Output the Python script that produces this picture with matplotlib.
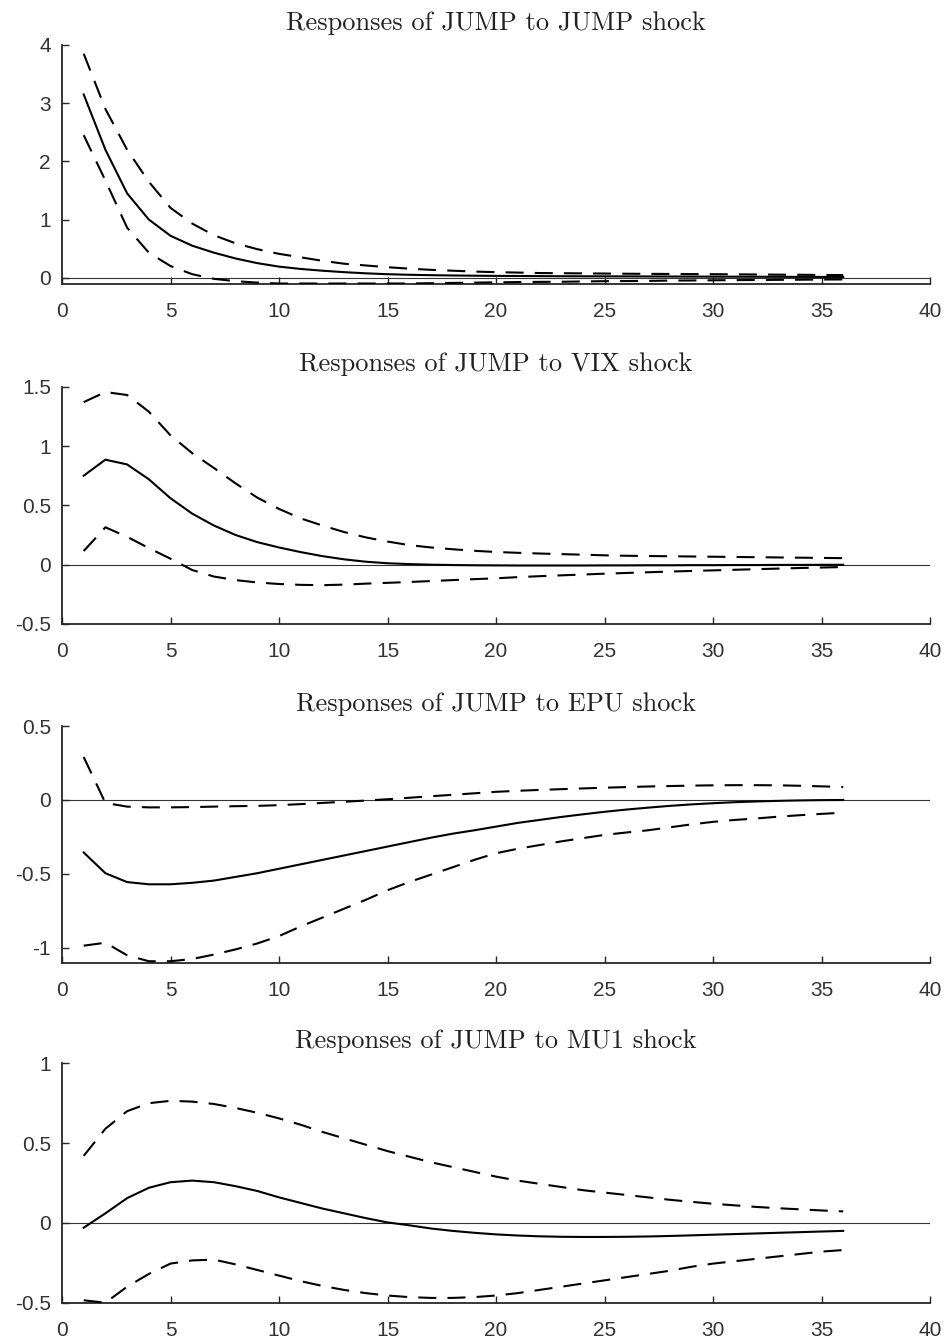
import numpy as np
import matplotlib
matplotlib.use("Agg")
import matplotlib.pyplot as plt
from matplotlib.ticker import FuncFormatter

# ---------------- data ----------------
horizon = list(range(1, 37))

titles = ["Responses of JUMP to JUMP shock",
          "Responses of JUMP to VIX shock",
          "Responses of JUMP to EPU shock",
          "Responses of JUMP to MU1 shock"]

jump_irf = [3.15, 2.2, 1.45, 1.0, 0.72, 0.55, 0.43, 0.33, 0.25, 0.19, 0.15, 0.12,
            0.095, 0.075, 0.06, 0.05, 0.043, 0.038, 0.034, 0.031, 0.029, 0.027, 0.025, 0.024,
            0.023, 0.022, 0.021, 0.020, 0.019, 0.018, 0.017, 0.016, 0.015, 0.014, 0.013, 0.012]
jump_up = [3.85, 2.9, 2.2, 1.65, 1.2, 0.93, 0.73, 0.59, 0.49, 0.41, 0.35, 0.29,
           0.24, 0.21, 0.18, 0.155, 0.135, 0.12, 0.105, 0.095, 0.088, 0.08, 0.077, 0.074,
           0.071, 0.068, 0.066, 0.064, 0.062, 0.06, 0.058, 0.055, 0.052, 0.05, 0.047, 0.045]
jump_lo = [2.45, 1.67, 0.86, 0.43, 0.2, 0.06, -0.02, -0.06, -0.085, -0.1, -0.1, -0.1,
           -0.1, -0.1, -0.1, -0.1, -0.095, -0.09, -0.085, -0.08, -0.075, -0.072, -0.07, -0.065,
           -0.06, -0.058, -0.055, -0.05, -0.048, -0.045, -0.042, -0.04, -0.037, -0.035, -0.032, -0.03]

vix_irf = [0.75, 0.885, 0.845, 0.72, 0.56, 0.43, 0.33, 0.25, 0.19, 0.145, 0.106, 0.072,
           0.045, 0.025, 0.012, 0.005, 0.0, -0.003, -0.005, -0.006, -0.007, -0.007, -0.007, -0.007,
           -0.006, -0.006, -0.005, -0.005, -0.004, -0.004, -0.003, -0.003, -0.002, -0.002, -0.001, -0.001]
vix_up = [1.37, 1.455, 1.43, 1.29, 1.09, 0.94, 0.815, 0.685, 0.565, 0.47, 0.39, 0.33,
          0.275, 0.23, 0.195, 0.165, 0.145, 0.13, 0.117, 0.107, 0.1, 0.094, 0.089, 0.084,
          0.079, 0.075, 0.073, 0.071, 0.069, 0.067, 0.065, 0.063, 0.061, 0.059, 0.057, 0.055]
vix_lo = [0.115, 0.315, 0.235, 0.14, 0.05, -0.045, -0.1, -0.13, -0.15, -0.163, -0.17, -0.173,
          -0.168, -0.16, -0.153, -0.146, -0.138, -0.13, -0.122, -0.115, -0.105, -0.097, -0.09, -0.083,
          -0.076, -0.07, -0.064, -0.058, -0.053, -0.048, -0.043, -0.038, -0.033, -0.028, -0.024, -0.02]

epu_irf = [-0.355, -0.495, -0.555, -0.57, -0.57, -0.56, -0.545, -0.52, -0.495, -0.465, -0.435, -0.405,
           -0.375, -0.345, -0.315, -0.285, -0.255, -0.228, -0.205, -0.18, -0.155, -0.135, -0.115, -0.097,
           -0.08, -0.065, -0.052, -0.04, -0.03, -0.022, -0.015, -0.01, -0.006, -0.003, -0.001, 0.0]
epu_up = [0.29, -0.02, -0.045, -0.05, -0.05, -0.048, -0.045, -0.042, -0.04, -0.035, -0.028, -0.02,
          -0.012, -0.004, 0.005, 0.015, 0.025, 0.035, 0.045, 0.055, 0.062, 0.068, 0.073, 0.078,
          0.083, 0.087, 0.091, 0.094, 0.097, 0.099, 0.1, 0.1, 0.099, 0.096, 0.092, 0.088]
epu_lo = [-0.985, -0.965, -1.05, -1.09, -1.09, -1.075, -1.045, -1.01, -0.97, -0.92, -0.855, -0.795,
          -0.735, -0.675, -0.61, -0.555, -0.505, -0.455, -0.405, -0.36, -0.33, -0.305, -0.28, -0.258,
          -0.236, -0.22, -0.205, -0.185, -0.165, -0.148, -0.135, -0.125, -0.113, -0.103, -0.094, -0.086]

mu1_irf = [-0.03, 0.06, 0.155, 0.22, 0.255, 0.265, 0.255, 0.23, 0.2, 0.16, 0.125, 0.09,
           0.06, 0.03, 0.003, -0.015, -0.035, -0.05, -0.062, -0.072, -0.079, -0.084, -0.087, -0.088,
           -0.088, -0.087, -0.085, -0.082, -0.078, -0.074, -0.07, -0.066, -0.062, -0.058, -0.054, -0.05]
mu1_up = [0.42, 0.59, 0.7, 0.75, 0.765, 0.76, 0.745, 0.72, 0.69, 0.655, 0.615, 0.57,
          0.53, 0.49, 0.45, 0.415, 0.38, 0.35, 0.32, 0.29, 0.265, 0.245, 0.225, 0.205,
          0.19, 0.175, 0.16, 0.145, 0.132, 0.12, 0.11, 0.1, 0.092, 0.085, 0.078, 0.072]
mu1_lo = [-0.485, -0.5, -0.4, -0.32, -0.255, -0.235, -0.23, -0.26, -0.295, -0.33, -0.365, -0.395,
          -0.42, -0.44, -0.455, -0.465, -0.47, -0.47, -0.465, -0.455, -0.44, -0.42, -0.4, -0.38,
          -0.36, -0.34, -0.32, -0.3, -0.275, -0.255, -0.24, -0.225, -0.21, -0.195, -0.18, -0.17]

panels = [(jump_irf, jump_up, jump_lo), (vix_irf, vix_up, vix_lo),
          (epu_irf, epu_up, epu_lo), (mu1_irf, mu1_up, mu1_lo)]
ylims = [(-0.1, 4), (-0.5, 1.5), (-1.1, 0.5), (-0.5, 1)]
yticks = [[0, 1, 2, 3, 4], [-0.5, 0, 0.5, 1, 1.5], [-1, -0.5, 0, 0.5], [-0.5, 0, 0.5, 1]]
xticks = [0, 5, 10, 15, 20, 25, 30, 35, 40]

# ---------------- figure ----------------
plt.rcParams['lines.scale_dashes'] = False
plt.rcParams['axes.unicode_minus'] = False

W, H = 946, 1342
fig = plt.figure(figsize=(W / 100, H / 100), dpi=100)

left_px, right_px = 62, 930
axes_px = [(45, 283.5), (386.7, 624), (726, 962.7), (1063.3, 1302.7)]

fmt = FuncFormatter(lambda v, p: ('%g' % v))
axis_col = '#262626'

for i, ((irf, up, lo), (top, bot)) in enumerate(zip(panels, axes_px)):
    ax = fig.add_axes([left_px / W, 1 - bot / H, (right_px - left_px) / W, (bot - top) / H])
    ax.axhline(0, color='#333333', lw=0.8, zorder=1)
    ax.plot(horizon, irf, color='black', lw=1.5, zorder=3)
    ax.plot(horizon, up, color='black', lw=1.5, dashes=(13, 8), zorder=3)
    ax.plot(horizon, lo, color='black', lw=1.5, dashes=(13, 8), zorder=3)
    ax.set_xlim(0, 40)
    ax.set_ylim(*ylims[i])
    ax.set_xticks(xticks)
    ax.set_yticks(yticks[i])
    ax.xaxis.set_major_formatter(fmt)
    ax.yaxis.set_major_formatter(fmt)
    for s in ['top', 'right']:
        ax.spines[s].set_visible(False)
    for s in ['left', 'bottom']:
        ax.spines[s].set_color(axis_col)
        ax.spines[s].set_linewidth(1.3)
    ax.tick_params(direction='in', length=5, width=1.0, color=axis_col,
                   labelsize=15, labelcolor='#333333', labelfontfamily='Liberation Sans')
    ax.tick_params(axis='x', pad=13)
    ax.tick_params(axis='y', pad=8)
    ax.set_title(titles[i], family='cmr10', fontsize=19, color='#222222', pad=11)

fig.savefig('out.png', dpi=100)
